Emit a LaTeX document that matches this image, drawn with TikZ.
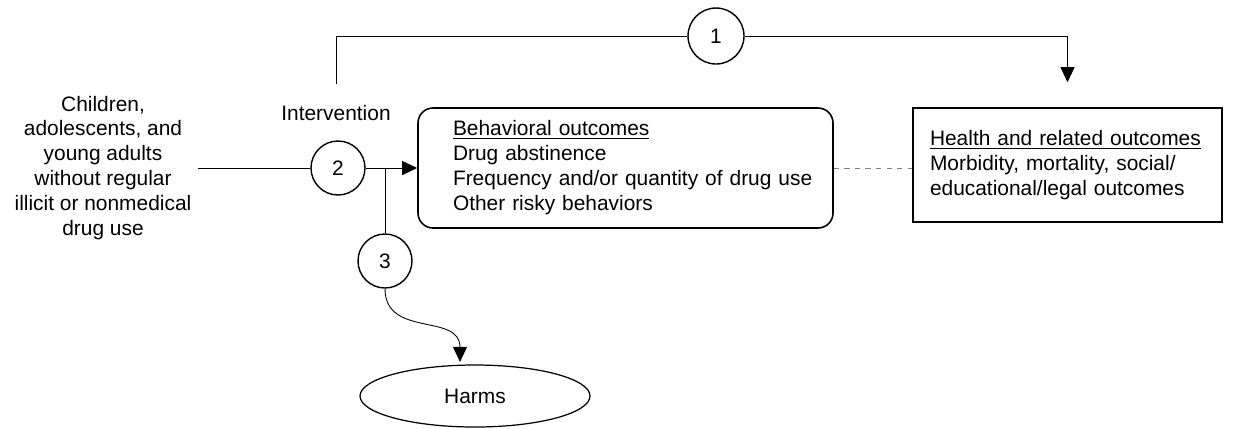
\documentclass[tikz,border=0pt]{standalone}
\usepackage{fontspec}
\setmainfont{Liberation Sans}
\usepackage{tikz}
\usetikzlibrary{calc,arrows.meta,shapes.geometric,positioning}
\tikzset{
  numcirc/.style  = {circle, draw, line width=0.8pt, minimum size=1.08cm, inner sep=0pt},
  outbox/.style   = {draw, line width=0.9pt, align=left, inner ysep=0pt, anchor=center},
  harmell/.style  = {ellipse, draw, line width=0.7pt, minimum width=4.6cm, minimum height=1.24cm},
  arr/.style      = {-{Triangle[length=3mm,width=2.8mm]}, line width=0.5pt},
  plain/.style    = {line width=0.5pt},
  assoc/.style    = {dashed, gray, line width=0.5pt},
}
\newcommand{\ind}{\hspace*{0.45cm}}
\begin{document}
\begin{tikzpicture}[font=\fontsize{11.9}{14.2}\selectfont]
  \useasboundingbox (0,0) rectangle (24.92,-8.56);
  \node[align=center] (pop) at (2.06,-3.36)
    {Children,\\adolescents, and\\young adults\\without regular\\illicit or nonmedical\\drug use};
  \node (intlab) at (6.72,-2.26) {Intervention};
  \node[numcirc] (c2) at (6.76,-3.36) {2};
  \node[numcirc] (c3) at (7.7,-5.22) {3};
  \node[numcirc, minimum size=1.12cm] (c1) at (14.32,-0.72) {1};
  \node[outbox, rounded corners=0.3cm, minimum width=8.3cm, minimum height=2.4cm,
        text width=7.8cm, inner xsep=0.25cm] (beh) at (12.51,-3.36)
    {\ind\underline{Behavioral outcomes}\\\ind Drug abstinence\\\ind Frequency and/or quantity of drug use\\\ind Other risky behaviors};
  \node[outbox, minimum width=6.18cm, minimum height=2.28cm,
        text width=5.5cm, inner xsep=0.34cm] (hbox) at (21.35,-3.3)
    {\underline{Health and related outcomes}\\Morbidity, mortality, social/\\educational/legal outcomes};
  \node[harmell] (harms) at (9.5,-7.92) {Harms};
  \coordinate (up) at (6.72,-1.68);
  \coordinate (br) at (7.7,-3.36);
  % paths
  \draw[plain] (pop.east) -- (c2);
  \draw[arr] (c2) -- (beh);
  \draw[plain] (br) -- (c3);
  \draw[arr] (c3.south) to[out=-90, in=90, looseness=1.2] ($(harms.north)+(-0.3,0.05)$);
  \draw[plain] (up) |- (c1);
  \draw[arr, shorten >=0.5cm] (c1) -| (hbox.north);
  \draw[assoc] (beh.east) -- (hbox.west |- beh.east);
\end{tikzpicture}
\end{document}
